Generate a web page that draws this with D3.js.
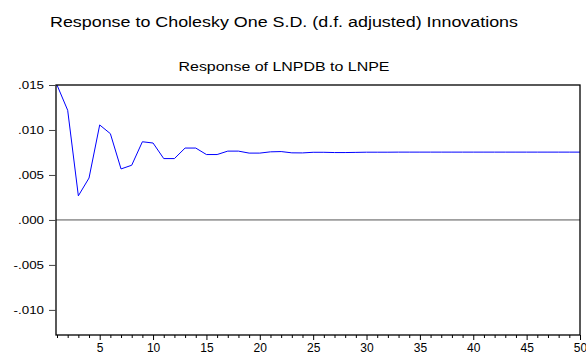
<!DOCTYPE html>
<html>
<head>
<meta charset="utf-8">
<script src="https://cdn.jsdelivr.net/npm/d3@7"></script>
<style>
  body { margin: 0; background: #fff; }
  svg { display: block; font-family: "Liberation Sans", Arial, sans-serif; }
</style>
</head>
<body>
<div id="chart"></div>
<script>
// impulse response values, periods 1..50
const periods = d3.range(1, 51)
const response = [
  0.0150, 0.01219, 0.00268, 0.00466, 0.01056, 0.00959, 0.00567, 0.00608, 0.00869, 0.00855,
  0.00682, 0.00682, 0.00799, 0.00799, 0.00727, 0.00727, 0.00765, 0.00765, 0.00743, 0.00743,
  0.00757, 0.00760, 0.00746, 0.00745, 0.00752, 0.00752, 0.00749, 0.00749, 0.00751, 0.00753,
  0.00753, 0.00753, 0.00754, 0.00754, 0.00754, 0.00754, 0.00754, 0.00754, 0.00754, 0.00754,
  0.00754, 0.00754, 0.00754, 0.00754, 0.00754, 0.00754, 0.00754, 0.00754, 0.00754, 0.00754
]
const yTicks = [0.015, 0.010, 0.005, 0.000, -0.005, -0.010]
const xTicks = [5, 10, 15, 20, 25, 30, 35, 40, 45, 50]
const title = 'Response to Cholesky One S.D. (d.f. adjusted) Innovations'
const subtitle = 'Response of LNPDB to LNPE'

const W = 586, H = 354
const margin = { top: 85, right: 6, bottom: 19, left: 56 }
const width = W - margin.left - margin.right
const height = H - margin.top - margin.bottom

const svg = d3.select('#chart').append('svg')
  .attr('width', W)
  .attr('height', H)

svg.append('rect').attr('width', W).attr('height', H).attr('fill', '#fff')

// the source text is a bit wider than Liberation Sans, stretch it
svg.append('text')
  .attr('x', 284).attr('y', 27)
  .attr('text-anchor', 'middle')
  .attr('font-size', 15.5)
  .attr('textLength', 468)
  .attr('lengthAdjust', 'spacingAndGlyphs')
  .text(title)

svg.append('text')
  .attr('x', 284).attr('y', 71)
  .attr('text-anchor', 'middle')
  .attr('font-size', 13.3)
  .attr('textLength', 211)
  .attr('lengthAdjust', 'spacingAndGlyphs')
  .text(subtitle)

const chart = svg.append('g')
  .attr('transform', `translate(${margin.left}, ${margin.top})`)

const x = d3.scaleLinear().domain([1, 50]).range([1, width])
const y = d3.scaleLinear().domain([-0.01279, 0.015]).range([height, 0])

const fmt = v => {
  let s = d3.format('.3f')(Math.abs(v)).replace(/^0/, '')
  return (v < 0 ? '-' : '') + s
}

// zero line
chart.append('line')
  .attr('x1', 0).attr('x2', width)
  .attr('y1', y(0)).attr('y2', y(0))
  .attr('stroke', '#555').attr('stroke-width', 1)

// response line
const line = d3.line()
  .x((d, i) => x(periods[i]))
  .y(d => y(d))
chart.append('path')
  .datum(response)
  .attr('fill', 'none')
  .attr('stroke', '#0000ff')
  .attr('stroke-width', 1)
  .attr('d', line)

// frame
chart.append('rect')
  .attr('x', 0).attr('y', 0)
  .attr('width', width).attr('height', height)
  .attr('fill', 'none')
  .attr('stroke', '#000').attr('stroke-width', 1.3)

// y axis
const yAxis = chart.append('g')
  .call(d3.axisLeft(y).tickValues(yTicks).tickFormat(fmt).tickSize(7).tickPadding(5))
yAxis.select('.domain').remove()
yAxis.selectAll('line').attr('stroke', '#444')
yAxis.selectAll('text')
  .attr('font-size', 11.6).attr('font-family', null).attr('fill', '#000')
  .each(function () {
    const w = this.getComputedTextLength()
    d3.select(this).attr('textLength', w * 1.15).attr('lengthAdjust', 'spacingAndGlyphs')
  })

// x axis minor ticks
const xMinor = chart.append('g')
  .attr('transform', `translate(0, ${height})`)
  .call(d3.axisBottom(x).tickValues(periods.filter(p => p % 5 !== 0)).tickSize(3).tickFormat(''))
xMinor.select('.domain').remove()

const xAxis = chart.append('g')
  .attr('transform', `translate(0, ${height})`)
  .call(d3.axisBottom(x).tickValues(xTicks).tickSize(5).tickPadding(3))
xAxis.select('.domain').remove()
xAxis.selectAll('text').attr('font-size', 12).attr('font-family', null).attr('fill', '#000')
</script>
</body>
</html>
